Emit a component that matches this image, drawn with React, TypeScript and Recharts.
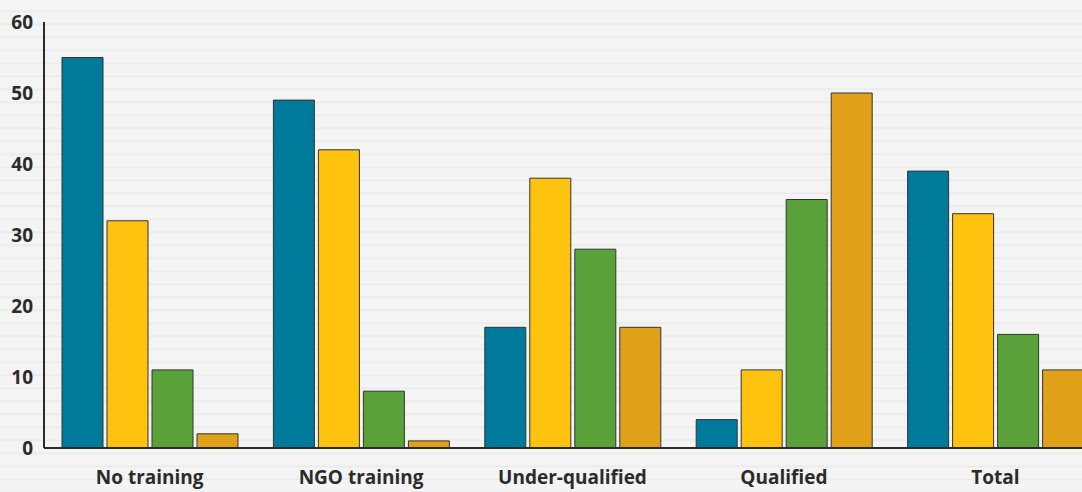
import { BarChart, Bar, XAxis, YAxis } from "recharts";

const categories = ["No training", "NGO training", "Under-qualified", "Qualified", "Total"];
const seriesA = [55, 49, 17, 4, 39];
const seriesB = [32, 42, 38, 11, 33];
const seriesC = [11, 8, 28, 35, 16];
const seriesD = [2, 1, 17, 50, 11];
const yTicks = [0, 10, 20, 30, 40, 50, 60];

const data = categories.map((name, i) => ({
  name,
  a: seriesA[i],
  b: seriesB[i],
  c: seriesC[i],
  d: seriesD[i],
}));

const FONT = "'Open Sans', sans-serif";
const INK = "#2b2b2b";

function CategoryTick({ x, y, payload }: { x?: number; y?: number; payload?: { value: string } }) {
  return (
    <text
      x={x}
      y={(y ?? 0) + 36}
      textAnchor="middle"
      fill={INK}
      fontFamily={FONT}
      fontWeight={700}
      fontSize={19}
    >
      {payload?.value}
    </text>
  );
}

export default function App() {
  return (
    <div
      style={{
        position: "fixed",
        left: 0,
        top: 0,
        width: 1082,
        height: 492,
        overflow: "hidden",
        background:
          "repeating-linear-gradient(180deg, #f4f4f4 0px, #f4f4f4 10px, #e9e9e9 11px, #f4f4f4 13px)",
      }}
    >
      <BarChart
        width={1101}
        height={492}
        data={data}
        margin={{ top: 22, right: 0, bottom: 0, left: 0 }}
        barCategoryGap={18}
        barGap={4}
      >
        <XAxis
          dataKey="name"
          height={44}
          tickLine={false}
          tickSize={0}
          tickMargin={0}
          axisLine={{ stroke: INK, strokeWidth: 2 }}
          tick={<CategoryTick />}
          interval={0}
        />
        <YAxis
          width={44}
          domain={[0, 60]}
          ticks={yTicks}
          interval={0}
          tickLine={false}
          tickSize={0}
          tickMargin={11}
          axisLine={{ stroke: INK, strokeWidth: 2 }}
          tick={{ fill: INK, fontFamily: FONT, fontWeight: 700, fontSize: 19 }}
        />
        <Bar dataKey="a" fill="#007a9a" stroke="#333" strokeWidth={1} isAnimationActive={false} />
        <Bar dataKey="b" fill="#ffc20e" stroke="#333" strokeWidth={1} isAnimationActive={false} />
        <Bar dataKey="c" fill="#5ba13a" stroke="#333" strokeWidth={1} isAnimationActive={false} />
        <Bar dataKey="d" fill="#e1a01a" stroke="#333" strokeWidth={1} isAnimationActive={false} />
      </BarChart>
    </div>
  );
}
